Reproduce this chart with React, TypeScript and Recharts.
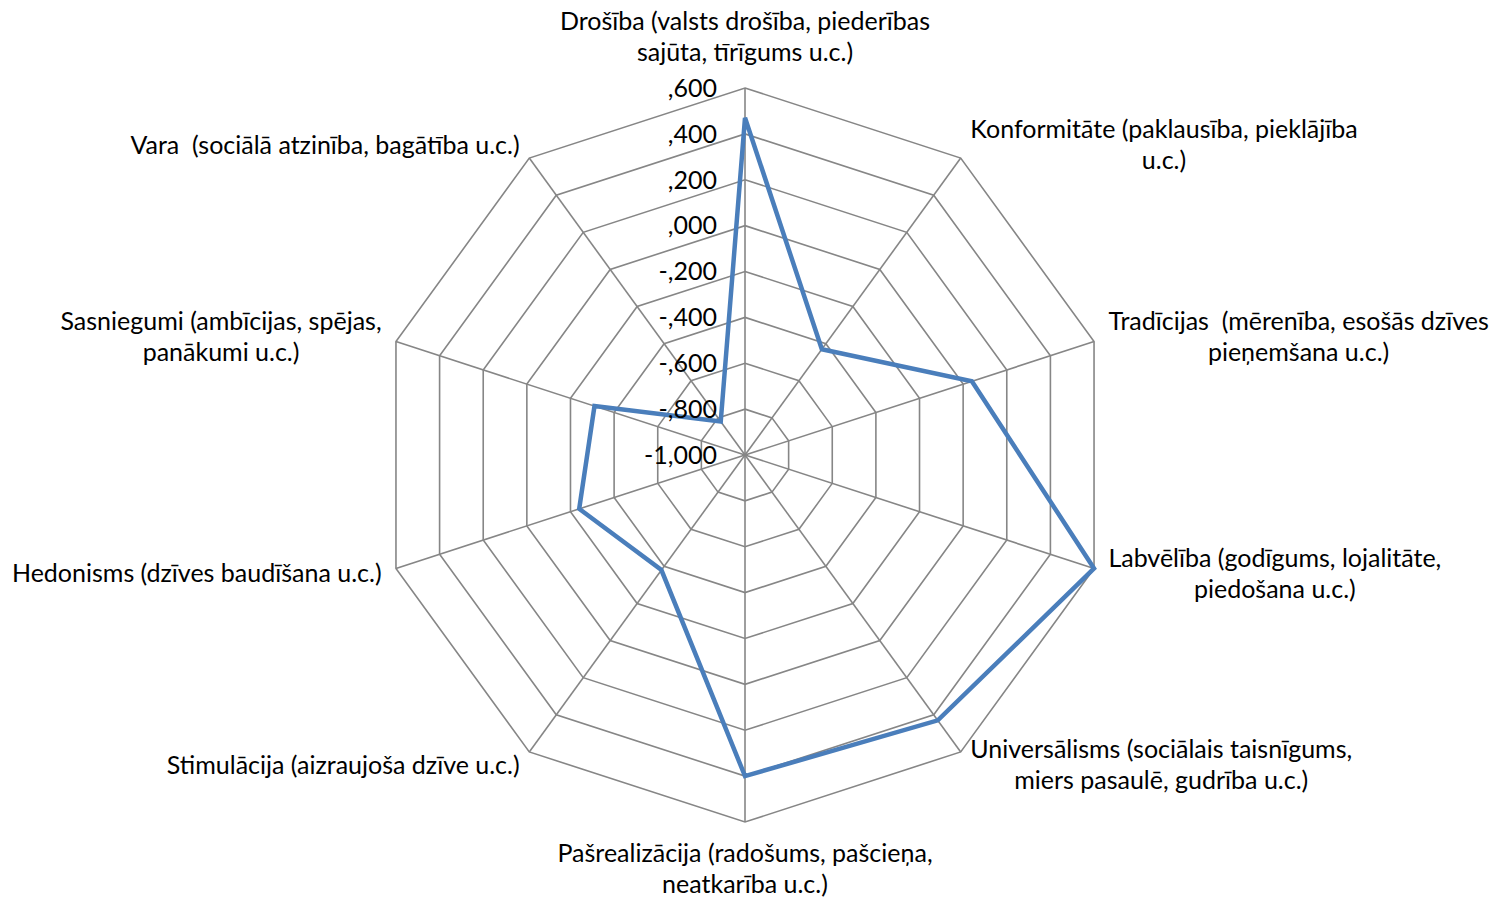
import { RadarChart, Radar, PolarGrid, PolarAngleAxis, PolarRadiusAxis } from "recharts";

const categories = [
  "Drošība (valsts drošība, piederības\nsajūta, tīrīgums u.c.)",
  "Konformitāte (paklausība, pieklājība\nu.c.)",
  "Tradīcijas  (mērenība, esošās dzīves\npieņemšana u.c.)",
  "Labvēlība (godīgums, lojalitāte,\npiedošana u.c.)",
  "Universālisms (sociālais taisnīgums,\nmiers pasaulē, gudrība u.c.)",
  "Pašrealizācija (radošums, pašcieņa,\nneatkarība u.c.)",
  "Stimulācija (aizraujoša dzīve u.c.)",
  "Hedonisms (dzīves baudīšana u.c.)",
  "Sasniegumi (ambīcijas, spējas,\npanākumi u.c.)",
  "Vara  (sociālā atzinība, bagātība u.c.)",
];

const values = [0.47, -0.43, 0.04, 0.6, 0.43, 0.4, -0.38, -0.24, -0.31, -0.82];

const radiusTicks = [-1, -0.8, -0.6, -0.4, -0.2, 0, 0.2, 0.4, 0.6];
const radiusTickLabels = ["-1,000", "-,800", "-,600", "-,400", "-,200", ",000", ",200", ",400", ",600"];

const data = categories.map((name, i) => ({ name, value: values[i] }));

const CX = 745;
const CY = 455;
const R = 367;
const FONT = "Lato";
const FONT_SIZE = 25;
const LINE_H = 31;

let canvas: HTMLCanvasElement | null = null;
function measure(text: string) {
  if (!canvas) canvas = document.createElement("canvas");
  const ctx = canvas.getContext("2d")!;
  ctx.font = `${FONT_SIZE}px ${FONT}`;
  return ctx.measureText(text).width;
}

function AngleTick(props: any) {
  const { x, y, payload } = props;
  const dx = x - CX;
  const dy = y - CY;
  const len = Math.hypot(dx, dy) || 1;
  const ux = dx / len;
  const uy = dy / len;
  const ex = CX + ux * R;
  const ey = CY + uy * R;
  const lines = String(payload.value).split("\n");
  const w = Math.max(...lines.map(measure));
  const blockH = lines.length * LINE_H;
  let bx: number;
  let by: number;
  if (Math.abs(ux) < 0.05) {
    bx = ex;
    by = uy < 0 ? ey - 20 - blockH / 2 : ey + 16 + blockH / 2;
  } else {
    const gap = 2 + 13 * Math.abs(ux);
    bx = ex + Math.sign(ux) * (gap + w / 2);
    by = ey + uy * 16;
  }
  return (
    <text
      textAnchor="middle"
      fill="#000"
      fontSize={FONT_SIZE}
      fontFamily={FONT}
      style={{ whiteSpace: "pre" }}
    >
      {lines.map((l, i) => (
        <tspan key={i} x={bx} y={by + (i - (lines.length - 1) / 2) * LINE_H} dy="0.35em">
          {l}
        </tspan>
      ))}
    </text>
  );
}

function RadiusTick(props: any) {
  const { x, y, payload } = props;
  const idx = radiusTicks.findIndex((t) => Math.abs(t - payload.value) < 1e-6);
  const label = idx >= 0 ? radiusTickLabels[idx] : String(payload.value);
  return (
    <text x={x - 28} y={y} dy="0.35em" textAnchor="end" fill="#000" fontSize={FONT_SIZE} fontFamily={FONT}>
      {label}
    </text>
  );
}

export default function App() {
  return (
    <div style={{ position: "absolute", left: 0, top: 0, width: 1495, height: 898, background: "#fff" }}>
      <RadarChart
        width={1495}
        height={898}
        cx={CX}
        cy={CY}
        outerRadius={R}
        data={data}
        margin={{ top: 0, right: 0, bottom: 0, left: 0 }}
      >
        <PolarGrid gridType="polygon" stroke="#868686" strokeWidth={1.6} />
        <PolarAngleAxis dataKey="name" tick={<AngleTick />} tickLine={false} axisLine={false} />
        <PolarRadiusAxis
          angle={90}
          type="number"
          scale="linear"
          domain={[radiusTicks[0], radiusTicks[radiusTicks.length - 1]]}
          ticks={radiusTicks as any}
          tickCount={radiusTicks.length}
          allowDecimals
          allowDataOverflow
          axisLine={false}
          tick={<RadiusTick />}
        />
        <Radar
          dataKey="value"
          stroke="#4a7ebb"
          strokeWidth={4.5}
          fill="none"
          fillOpacity={0}
          dot={false}
          isAnimationActive={false}
        />
      </RadarChart>
    </div>
  );
}
